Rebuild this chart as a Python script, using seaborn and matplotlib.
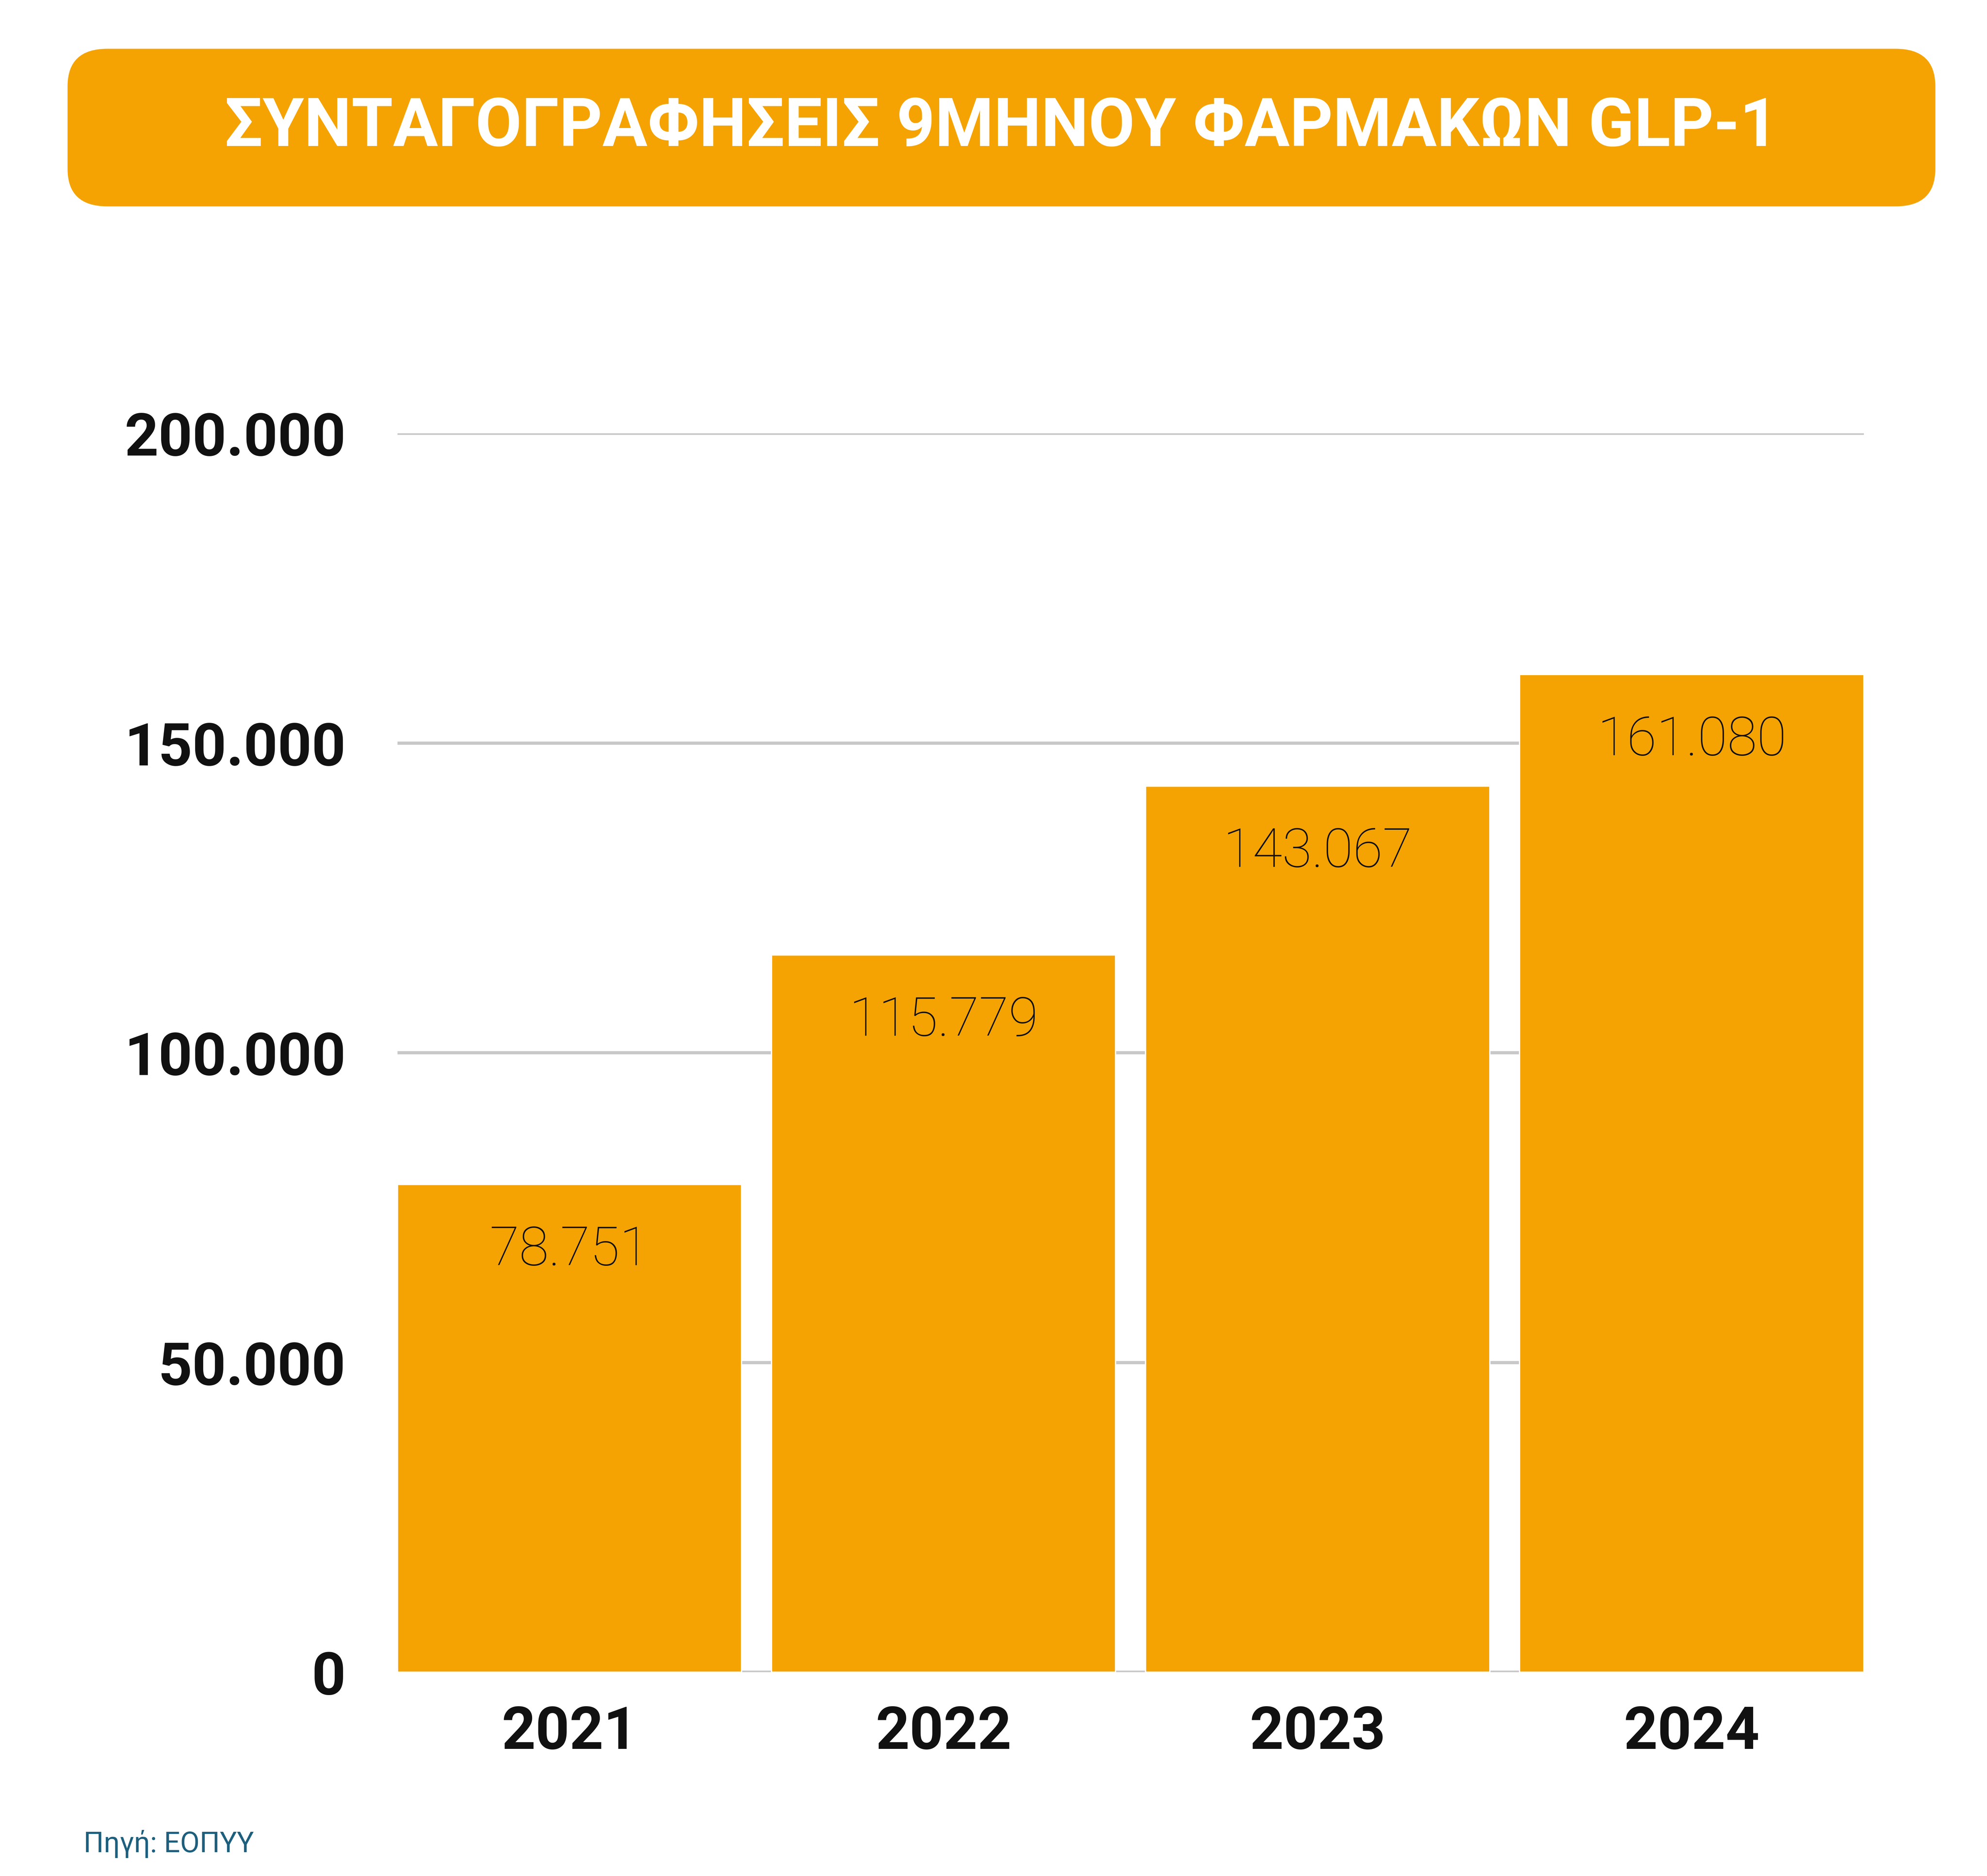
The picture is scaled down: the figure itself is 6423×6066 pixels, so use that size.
import matplotlib
matplotlib.use('Agg')
import matplotlib.pyplot as plt
import seaborn as sns
import pandas as pd
from matplotlib.patches import FancyBboxPatch

years = ['2021', '2022', '2023', '2024']
values = [78751, 115779, 143067, 161080]
labels = ['78.751', '115.779', '143.067', '161.080']
yticks = [0, 50000, 100000, 150000, 200000]
ytick_labels = ['0', '50.000', '100.000', '150.000', '200.000']

sns.set_theme(style='white')
plt.rcParams['font.family'] = ['Roboto', 'DejaVu Sans']

orange = '#F5A303'
df = pd.DataFrame({'year': years, 'value': values})

fig = plt.figure(figsize=(6423 / 300, 6066 / 300), dpi=300)
fig.patch.set_facecolor('white')

# title box
box = FancyBboxPatch((0.034, 0.89), 0.94, 0.084, boxstyle='round,pad=0,rounding_size=0.02',
                     transform=fig.transFigure, facecolor=orange, edgecolor='none')
fig.patches.append(box)
fig.text(0.504, 0.932, 'ΣΥΝΤΑΓΟΓΡΑΦΗΣΕΙΣ 9ΜΗΝΟΥ ΦΑΡΜΑΚΩΝ GLP-1', ha='center', va='center',
         color='white', fontsize=52, fontweight='bold')

ax = fig.add_axes([0.2, 0.1086, 0.738, 0.6604])
sns.barplot(data=df, x='year', y='value', color=orange, width=0.92, saturation=1, ax=ax, zorder=2)
ax.set_xlim(-0.46, 3.46)
ax.set_ylim(0, 200000)
ax.set_yticks(yticks)
ax.set_yticklabels(ytick_labels, fontsize=46, fontweight='bold', color='#111111')
ax.tick_params(axis='y', pad=40, length=0)
ax.tick_params(axis='x', labelsize=46, pad=25, length=0)
for t in ax.get_xticklabels():
    t.set_fontweight('bold')
    t.set_color('#111111')
ax.set_xlabel('')
ax.set_ylabel('')
ax.yaxis.grid(True, color='#c8c8c8', linewidth=2.5, zorder=0)
ax.set_axisbelow(True)
for s in ax.spines.values():
    s.set_visible(False)

for i, (v, lab) in enumerate(zip(values, labels)):
    ax.text(i, v - 6500, lab, ha='center', va='top', fontsize=42, fontweight='light', color='#111111')

fig.text(0.042, 0.017, 'Πηγή: ΕΟΠΥΥ', ha='left', va='center', fontsize=22,
         color='#1d5f7d')

fig.savefig('out.png', dpi=300, facecolor='white')
